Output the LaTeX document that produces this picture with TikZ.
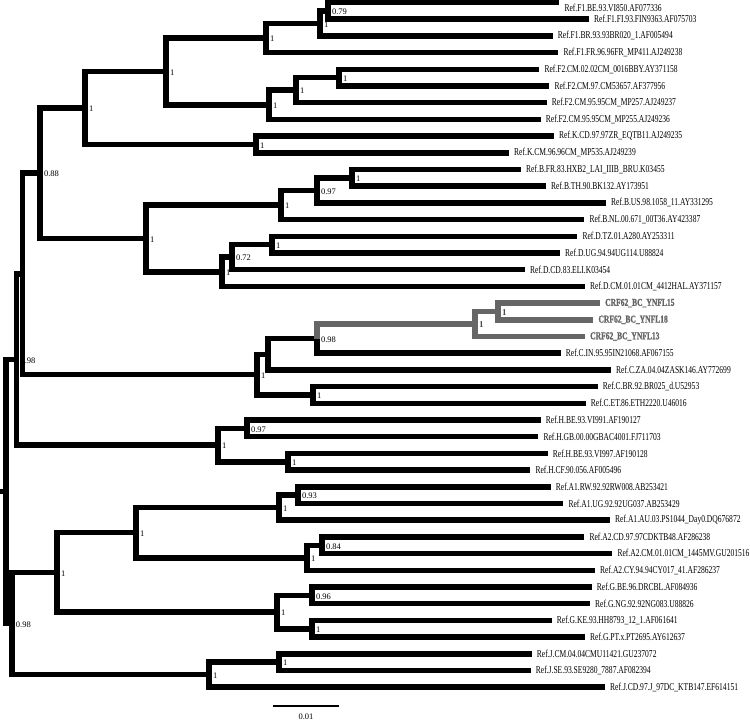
\documentclass[tikz,border=0pt]{standalone}
\usepackage{fontspec}
\setmainfont{Liberation Serif}
\newfontfamily\leaffont[FakeStretch=0.72]{Liberation Serif}
\newfontfamily\crffont[FakeStretch=0.72,FakeBold=1.2]{Liberation Serif Bold}
\definecolor{crfgray}{gray}{0.4}
\begin{document}
\begin{tikzpicture}[x=1pt,y=-1pt,
  br/.style={line width=5.5pt,line join=miter,line cap=butt},
  crfbr/.style={br,draw=crfgray},
  leaflab/.style={anchor=west,inner sep=0pt,font=\leaffont\fontsize{10.5}{11}\selectfont},
  crflab/.style={anchor=west,inner sep=0pt,font=\crffont\fontsize{10.5}{11}\selectfont,text=crfgray},
  boot/.style={anchor=west,inner sep=0pt,font=\fontsize{8.5}{9}\selectfont},
  crfboot/.style={anchor=west,inner sep=0pt,font=\bfseries\fontsize{9}{9}\selectfont,text=crfgray!75!black},
  scalebar/.style={line width=1.3pt}]
\useasboundingbox (0,0) rectangle (750,724);
% leaves
\foreach \i/\x/\t in {
 2/589/{Ref.F1.FI.93.FIN9363.AF075703},
 3/552.7/{Ref.F1.BR.93.93BR020\_1.AF005494},
 4/558.3/{Ref.F1.FR.96.96FR\_MP411.AJ249238},
 5/539.3/{Ref.F2.CM.02.02CM\_0016BBY.AY371158},
 6/549.3/{Ref.F2.CM.97.CM53657.AF377956},
 7/546.7/{Ref.F2.CM.95.95CM\_MP257.AJ249237},
 8/540.7/{Ref.F2.CM.95.95CM\_MP255.AJ249236},
 9/554/{Ref.K.CD.97.97ZR\_EQTB11.AJ249235},
 10/509/{Ref.K.CM.96.96CM\_MP535.AJ249239},
 11/521/{Ref.B.FR.83.HXB2\_LAI\_IIIB\_BRU.K03455},
 12/546/{Ref.B.TH.90.BK132.AY173951},
 13/606/{Ref.B.US.98.1058\_11.AY331295},
 14/584.3/{Ref.B.NL.00.671\_00T36.AY423387},
 15/577.3/{Ref.D.TZ.01.A280.AY253311},
 16/560/{Ref.D.UG.94.94UG114.U88824},
 17/525/{Ref.D.CD.83.ELI.K03454},
 18/585/{Ref.D.CM.01.01CM\_4412HAL.AY371157},
 22/560.7/{Ref.C.IN.95.95IN21068.AF067155},
 23/611/{Ref.C.ZA.04.04ZASK146.AY772699},
 24/597.7/{Ref.C.BR.92.BR025\_d.U52953},
 25/585.7/{Ref.C.ET.86.ETH2220.U46016},
 26/540.7/{Ref.H.BE.93.VI991.AF190127},
 27/538.3/{Ref.H.GB.00.00GBAC4001.FJ711703},
 28/547.7/{Ref.H.BE.93.VI997.AF190128},
 29/530.3/{Ref.H.CF.90.056.AF005496},
 30/550.7/{Ref.A1.RW.92.92RW008.AB253421},
 31/563.3/{Ref.A1.UG.92.92UG037.AB253429},
 32/610/{Ref.A1.AU.03.PS1044\_Day0.DQ676872},
 33/584.3/{Ref.A2.CD.97.97CDKTB48.AF286238},
 34/612.3/{Ref.A2.CM.01.01CM\_1445MV.GU201516},
 35/595/{Ref.A2.CY.94.94CY017\_41.AF286237},
 36/591.7/{Ref.G.BE.96.DRCBL.AF084936},
 37/590/{Ref.G.NG.92.92NG083.U88826},
 38/551.7/{Ref.G.KE.93.HH8793\_12\_1.AF061641},
 39/585/{Ref.G.PT.x.PT2695.AY612637},
 40/531.7/{Ref.J.CM.04.04CMU11421.GU237072},
 41/530.7/{Ref.J.SE.93.SE9280\_7887.AF082394},
 42/605/{Ref.J.CD.97.J\_97DC\_KTB147.EF614151}}{
  \coordinate (L\i) at (\x,{2.5+(\i-1)*16.7});
  \node[leaflab] (T\i) at ([xshift=5pt]L\i) {\t};
}
% first leaf: text kept inside the top edge
\coordinate (L1) at (559.3,2.5);
\node[leaflab,anchor=north west] (T1) at ([xshift=5pt,yshift=-1.5pt]L1) {Ref.F1.BE.93.VI850.AF077336};
\foreach \i/\x/\t in {19/600/{CRF62\_BC\_YNFL15},20/593.3/{CRF62\_BC\_YNFL18},21/585/{CRF62\_BC\_YNFL13}}{
  \coordinate (L\i) at (\x,{2.5+(\i-1)*16.7});
  \node[crflab] (T\i) at ([xshift=5pt]L\i) {\t};
}
% internal nodes
\coordinate (n12) at (328,10.85);
\coordinate (n123) at (320,23.375);
\coordinate (nF1) at (266,37.99);
\coordinate (n56) at (339,77.65);
\coordinate (n567) at (296,90.175);
\coordinate (nF2) at (269,104.79);
\coordinate (nF) at (166,71.39);
\coordinate (nK) at (256,144.45);
\coordinate (nFK) at (85,107.92);
\coordinate (n1112) at (352,177.85);
\coordinate (n1113) at (317,190.375);
\coordinate (nB) at (281,204.99);
\coordinate (n1516) at (272,244.65);
\coordinate (n1517) at (232,257.175);
\coordinate (nD) at (222,271.79);
\coordinate (nBD) at (146,238.39);
\coordinate (nFKBD) at (40,173.155);
\coordinate (n1920) at (498,311.45);
\coordinate (nCRF) at (475,323.975);
\coordinate (nC22) at (317,338.59);
\coordinate (nC23) at (268,354.245);
\coordinate (n2425) at (313,394.95);
\coordinate (nC) at (257,374.6);
\coordinate (nP) at (22.5,273.88);
\coordinate (n2627) at (247,428.35);
\coordinate (n2829) at (288,461.75);
\coordinate (nH) at (218,445.05);
\coordinate (nQ) at (16.5,359.47);
\coordinate (n3031) at (298,495.15);
\coordinate (nA1) at (279,507.675);
\coordinate (n3334) at (322,545.25);
\coordinate (nA2) at (307,557.775);
\coordinate (nA) at (136,532.725);
\coordinate (n3637) at (312,595.35);
\coordinate (n3839) at (312,628.75);
\coordinate (nG) at (277,612.05);
\coordinate (nAG) at (57,572.39);
\coordinate (n4041) at (279,662.15);
\coordinate (nJ) at (209,674.675);
\coordinate (nR) at (12,623.53);
\coordinate (root) at (6,491.5);
\coordinate (stub) at (0,491.5);
% support values
\foreach \n/\v in {n12/0.79,n123/1,nF1/1,n56/1,n567/1,nF2/1,nF/1,nK/1,nFK/1,
  n1112/1,n1113/0.97,nB/1,n1516/1,n1517/0.72,nD/1,nBD/1,nFKBD/0.88,
  nC22/0.98,nC/1,n2425/1,nQ/0.98,n2627/0.97,n2829/1,nH/1,
  n3031/0.93,nA1/1,n3334/0.84,nA2/1,nA/1,n3637/0.96,n3839/1,nG/1,nAG/1,
  n4041/1,nJ/1,nR/0.98}{
  \node[boot] (b\n) at ([xshift=3.8pt,yshift=-1pt]\n) {\v};
}
\foreach \n in {n1920,nCRF}{
  \node[crfboot] (b\n) at ([xshift=3.8pt,yshift=-1pt]\n) {1};
}
% branches
\foreach \p/\c in {n12/L1,n12/L2,n123/n12,n123/L3,nF1/n123,nF1/L4,
  n56/L5,n56/L6,n567/n56,n567/L7,nF2/n567,nF2/L8,nF/nF1,nF/nF2,
  nK/L9,nK/L10,nFK/nF,nFK/nK,
  n1112/L11,n1112/L12,n1113/n1112,n1113/L13,nB/n1113,nB/L14,
  n1516/L15,n1516/L16,n1517/n1516,n1517/L17,nD/n1517,nD/L18,
  nBD/nB,nBD/nD,nFKBD/nFK,nFKBD/nBD,
  nC22/L22,nC23/nC22,nC23/L23,n2425/L24,n2425/L25,nC/nC23,nC/n2425,
  nP/nFKBD,nP/nC,
  n2627/L26,n2627/L27,n2829/L28,n2829/L29,nH/n2627,nH/n2829,
  nQ/nP,nQ/nH,
  n3031/L30,n3031/L31,nA1/n3031,nA1/L32,n3334/L33,n3334/L34,nA2/n3334,nA2/L35,
  nA/nA1,nA/nA2,n3637/L36,n3637/L37,n3839/L38,n3839/L39,nG/n3637,nG/n3839,
  nAG/nA,nAG/nG,n4041/L40,n4041/L41,nJ/n4041,nJ/L42,nR/nAG,nR/nJ,
  root/nQ,root/nR}{
  \draw[br] (\p) |- (\c);
}
\foreach \p/\c in {n1920/L19,n1920/L20,nCRF/n1920,nCRF/L21,nC22/nCRF}{
  \draw[crfbr] (\p) |- (\c);
}
\draw[br] (stub) -- (root);
% scale bar
\coordinate (sb1) at (273,706);
\coordinate (sb2) at (339,706);
\draw[scalebar] (sb1) -- (sb2);
\node[boot,anchor=center] (sblab) at (306,717) {0.01};
\end{tikzpicture}
\end{document}
